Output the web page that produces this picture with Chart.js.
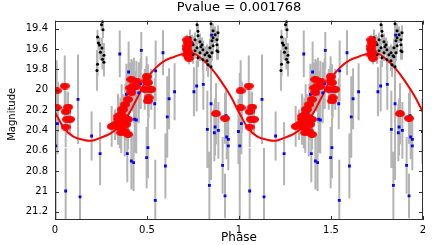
<!DOCTYPE html>
<html><head><meta charset="utf-8">
<script src="https://cdn.jsdelivr.net/npm/chart.js@4.4.0/dist/chart.umd.min.js"></script>
<style>html,body{margin:0;padding:0;background:#fff;overflow:hidden}#wrap{width:436px;height:245px}</style>
</head><body><div id="wrap"><canvas id="c" width="436" height="245"></canvas></div>
<script>
const titleText = 'Pvalue = 0.001768';
const xTitle = 'Phase';
const yTitle = 'Magnitude';
const xTickValues = [0, 0.5, 1, 1.5, 2];
const xTickLabels = ['0', '0.5', '1', '1.5', '2'];
const yTickValues = [19.4, 19.6, 19.8, 20, 20.2, 20.4, 20.6, 20.8, 21, 21.2];
const yTickLabels = ['19.4', '19.6', '19.8', '20', '20.2', '20.4', '20.6', '20.8', '21', '21.2'];

// fitted curve, read over one cycle (phase 0..1)
const fitPhase = [0,0.05,0.1,0.15,0.2,0.25,0.3,0.35,0.4,0.45,0.5,0.55,0.6,0.65,0.7,0.75,0.8,0.85,0.9,0.95,1.0];
const fitMag = [20.22,20.38,20.46,20.49,20.5,20.47,20.43,20.36,20.24,20.07,19.89,19.78,19.71,19.675,19.645,19.64,19.7,19.79,19.91,20.05,20.22];

// black points (phase 0..1)
const blackPhase = [0.228,0.231,0.266,0.258,0.266,0.247,0.255,0.236,0.242,0.231,0.261,0.258,0.253,
  0.772,0.777,0.777,0.761,0.788,0.750,0.799,0.772,0.804,0.761,0.788,0.750,0.815,0.777,0.804,0.826,0.842,0.853,0.859,0.870,0.880,0.880,0.859,0.880,0.853,0.837,0.832,0.826,0.886,0.859,0.734,0.745,0.728,0.848,0.886,0.842,0.793,0.848];
const blackMag = [19.81,19.75,19.73,19.70,19.66,19.63,19.59,19.54,19.56,19.48,19.41,19.33,19.36,
  19.361,19.425,19.469,19.508,19.528,19.557,19.557,19.587,19.606,19.616,19.636,19.655,19.655,19.685,19.705,19.636,19.587,19.518,19.488,19.459,19.508,19.557,19.567,19.616,19.636,19.665,19.754,19.714,19.439,19.420,19.488,19.538,19.606,19.773,19.626,19.675,19.577,19.35];
const blackErr = [0.2,0.12,0.14,0.1,0.12,0.08,0.1,0.07,0.08,0.07,0.08,0.06,0.06,
  0.06,0.07,0.08,0.07,0.08,0.08,0.07,0.08,0.09,0.08,0.08,0.09,0.08,0.09,0.1,0.08,0.09,0.08,0.07,0.08,0.09,0.08,0.08,0.09,0.08,0.09,0.12,0.1,0.07,0.07,0.08,0.08,0.09,0.12,0.08,0.09,0.08,0.07];

// blue points (phase 0..1)
const bluePhase = [0.004,0.013,0.016,0.058,0.125,0.136,0.199,0.245,0.352,0.388,0.393,0.400,0.415,0.427,0.429,0.433,0.442,0.455,0.466,0.469,0.498,0.505,0.542,0.545,0.547,0.587,0.600,0.610,0.620,0.650,0.755,0.770,0.806,0.828,0.839,0.848,0.851,0.866,0.870,0.888,0.911,0.924,0.929,0.933,0.942,0.942,0.997];
const blueMag = [20.552,20.333,20.17,20.995,20.094,21.053,20.454,20.628,19.648,20.045,20.628,19.825,20.70,20.716,20.006,20.29,20.297,20.03,19.94,19.613,20.667,20.569,20.137,21.087,19.815,19.636,20.749,20.267,20.088,20.019,20.019,19.963,19.947,20.389,20.939,20.137,19.462,20.422,20.366,20.399,20.743,21.043,20.255,20.464,20.487,20.552,20.41];
const blueErr = [0.72,0.3,0.25,0.42,0.44,0.48,0.24,0.31,0.23,0.3,0.28,0.3,0.28,0.28,0.32,0.33,0.33,0.3,0.25,0.18,0.3,0.3,0.25,0.4,0.3,0.22,0.32,0.4,0.3,0.28,0.24,0.25,0.25,0.38,0.33,0.75,0.05,0.28,0.28,0.28,0.28,0.22,0.25,0.22,0.22,0.24,0.32];

// red points (phase 0..1)
const redPhase = [0.009,0.053,0.009,0.071,0.058,0.064,0.082,0.058,
  0.308,0.326,0.342,0.344,0.352,0.352,0.357,0.36,0.36,0.362,0.37,0.379,0.379,0.382,0.388,0.397,0.397,0.397,0.408,0.415,0.415,0.424,0.442,0.44,
  0.488,0.496,0.498,0.505,0.505,0.509,0.515,0.523,
  0.718,0.722,0.72,0.716,0.724,0.72,0.728,
  0.875,0.924];
const redMag = [20.01,19.963,20.176,20.17,20.215,20.29,20.29,20.366,
  20.36,20.343,20.29,20.26,20.274,20.373,20.333,20.242,20.422,20.196,20.193,20.274,20.405,20.144,20.34,20.094,20.291,20.438,19.983,19.898,20.029,19.963,19.914,19.967,
  19.996,19.914,19.87,19.93,20.11,20.078,19.996,19.996,
  19.51,19.54,19.57,19.60,19.63,19.66,19.69,
  20.235,20.28];
const redErr = [0.3,0.3,0.25,0.15,0.2,0.15,0.15,0.2,
  0.2,0.15,0.25,0.2,0.15,0.2,0.25,0.15,0.2,0.25,0.15,0.2,0.25,0.2,0.15,0.25,0.2,0.15,0.25,0.2,0.15,0.25,0.2,0.15,
  0.2,0.15,0.2,0.18,0.15,0.2,0.15,0.2,
  0.05,0.05,0.05,0.05,0.05,0.05,0.06,
  0.3,0.25];

// each observation is shown at phase and phase + 1
function twoCycles(ph, mg) {
  const out = [];
  for (let k = 0; k < 2; k++) ph.forEach((p, i) => out.push({x: p + k, y: mg[i]}));
  return out;
}
function errSegments(ph, mg, er) {
  const out = [];
  for (let k = 0; k < 2; k++) ph.forEach((p, i) => {
    out.push({x: p + k, y: mg[i] - er[i]}, {x: p + k, y: mg[i] + er[i]}, {x: p + k, y: null});
  });
  return out;
}
const fitPoints = [];
for (let k = 0; k < 2; k++) fitPhase.forEach((p, i) => { if (k === 0 || i > 0) fitPoints.push({x: p + k, y: fitMag[i]}); });

// ellipse marker for red points
const redMarker = document.createElement('canvas');
redMarker.width = 10; redMarker.height = 7;
{ const g = redMarker.getContext('2d'); g.fillStyle = '#ff0000'; g.beginPath(); g.ellipse(5, 3.5, 5, 3.5, 0, 0, Math.PI * 2); g.fill(); }

const FONT = '"DejaVu Sans", Arial, sans-serif';

const axesBox = {
  id: 'axesBox',
  afterDatasetsDraw(chart) {
    const {ctx, chartArea: a, scales: {x, y}} = chart;
    ctx.save();
    ctx.strokeStyle = '#303030';
    ctx.lineWidth = 1;
    ctx.strokeRect(Math.round(a.left) + 0.5, Math.round(a.top) + 0.5, Math.round(a.right - a.left) - 1, Math.round(a.bottom - a.top) - 1);
    ctx.beginPath();
    const L = 4;
    yTickValues.forEach(v => {
      const py = Math.round(y.getPixelForValue(v)) + 0.5;
      ctx.moveTo(a.left, py); ctx.lineTo(a.left + L, py);
      ctx.moveTo(a.right, py); ctx.lineTo(a.right - L, py);
    });
    xTickValues.forEach(v => {
      const px = Math.round(x.getPixelForValue(v)) + 0.5;
      ctx.moveTo(px, a.bottom); ctx.lineTo(px, a.bottom - L);
      ctx.moveTo(px, a.top); ctx.lineTo(px, a.top + L);
    });
    ctx.stroke();
    // y axis title
    ctx.translate(12.5, (a.top + a.bottom) / 2 - 6);
    ctx.rotate(-Math.PI / 2);
    ctx.fillStyle = '#000';
    ctx.font = '10px ' + FONT;
    ctx.textAlign = 'center';
    ctx.textBaseline = 'middle';
    ctx.fillText(yTitle, 0, 0);
    ctx.restore();
  }
};

new Chart(document.getElementById('c'), {
  type: 'scatter',
  data: {
    datasets: [
      {label: 'err', data: [...errSegments(bluePhase, blueMag, blueErr), ...errSegments(blackPhase, blackMag, blackErr), ...errSegments(redPhase, redMag, redErr)],
        showLine: true, spanGaps: false, tension: 0.000001, borderColor: '#b4b4b4', borderWidth: 2, pointRadius: 0, order: 5},
      {label: 'fit', data: fitPoints, showLine: true, borderColor: '#ff0000', borderWidth: 2, pointRadius: 0, tension: 0.4, order: 4},
      {label: 'black', data: twoCycles(blackPhase, blackMag), backgroundColor: '#000', borderColor: '#000', pointRadius: 1.5, borderWidth: 0, order: 3},
      {label: 'blue', data: twoCycles(bluePhase, blueMag), pointStyle: 'rect', backgroundColor: '#0000ff', borderColor: '#0000ff', pointRadius: 2, borderWidth: 0, order: 2},
      {label: 'red', data: twoCycles(redPhase, redMag), pointStyle: redMarker, pointRadius: 4, order: 1}
    ]
  },
  options: {
    responsive: false, animation: false, devicePixelRatio: 1,
    layout: {padding: {left: 0, right: 13, top: 0, bottom: 0}},
    plugins: {
      legend: {display: false}, tooltip: {enabled: false},
      title: {display: true, text: titleText, fullSize: false, color: '#000', font: {family: FONT, size: 13, weight: 'normal'}, padding: {top: 0, bottom: 5}}
    },
    scales: {
      x: {
        type: 'linear', min: 0, max: 2,
        afterFit: s => { s.height = 25; },
        afterBuildTicks: s => { s.ticks = xTickValues.map(v => ({value: v})); },
        ticks: {autoSkip: false, maxRotation: 0, padding: 4, color: '#000', font: {family: FONT, size: 10},
          callback: (v) => xTickLabels[xTickValues.indexOf(v)]},
        grid: {display: false, drawTicks: false}, border: {display: false},
        title: {display: true, text: xTitle, color: '#000', font: {family: FONT, size: 12}, padding: {top: 0, bottom: 0}}
      },
      y: {
        type: 'linear', reverse: true, min: 19.32, max: 21.28,
        afterFit: s => { s.width = 55; },
        afterBuildTicks: s => { s.ticks = yTickValues.map(v => ({value: v})); },
        ticks: {autoSkip: false, padding: 7, color: '#000', font: {family: FONT, size: 10},
          callback: (v) => yTickLabels[yTickValues.indexOf(v)]},
        grid: {display: false, drawTicks: false}, border: {display: false},
        title: {display: false}
      }
    }
  },
  plugins: [axesBox]
});
</script></body></html>
